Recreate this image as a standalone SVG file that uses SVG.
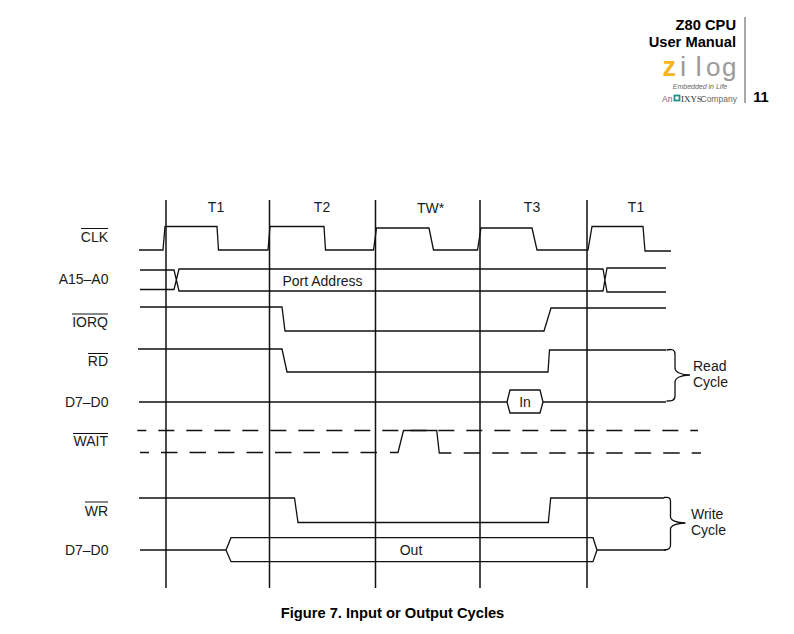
<svg xmlns="http://www.w3.org/2000/svg" width="794" height="634" viewBox="0 0 794 634">
<style>
text{font-family:"Liberation Sans",Arial,sans-serif;fill:#1a1a1a}
.l{font-size:14px;text-anchor:end}
.m{font-size:14px;text-anchor:middle}
.s{font-size:14px}
.b{font-weight:bold;font-size:14.700px;fill:#000}
.e{text-anchor:end}
.w,.o,.g{fill:none;stroke:#111;stroke-width:1.3;stroke-linejoin:miter}
.g{stroke-width:1.5}
.o{stroke-width:1}
.d1{stroke-dasharray:16 12;stroke-dashoffset:7}
.d2{stroke-dasharray:16.500 12;stroke-dashoffset:7.500}
</style>
<rect width="794" height="634" fill="#fff"/>
<g id="header">
<text class="b e" x="736" y="30">Z80 CPU</text>
<text class="b e" x="736" y="47">User Manual</text>
<line x1="745" y1="17" x2="745" y2="103" stroke="#555" stroke-width="1"/>
<text class="b" x="761" y="102" text-anchor="middle">11</text>
<g id="logo">
<text x="662.500" y="75.500" style="font-size:27px;font-weight:bold;fill:#f5b51e">z</text>
<text x="680" y="75.500" style="font-size:28px;fill:#9a9a9a">i</text>
<text x="695.500" y="75.500" style="font-size:28px;fill:#9a9a9a">l</text>
<text x="706" y="75.500" style="font-size:26px;fill:#9a9a9a">o</text>
<text x="722" y="75.500" style="font-size:26px;fill:#9a9a9a">g</text>
<text x="700" y="89" text-anchor="middle" style="font-size:7px;font-style:italic;fill:#666">Embedded in Life</text>
<text x="662" y="101.700" style="font-size:8.500px;fill:#666">An</text>
<rect x="674.500" y="95.500" width="5" height="5" fill="none" stroke="#1f8f8a" stroke-width="1.800"/>
<text x="681" y="101.700" style="font-size:9px;font-family:'Liberation Serif',serif;fill:#333">IXYS</text>
<text x="700.500" y="101.700" style="font-size:8.500px;fill:#666">Company</text>
</g>
</g>
<g id="grid">
<path class="g" d="M166 200V588M269.500 200V588M375.500 200V588M480 200V588M587 200V588"/>
</g>
<g id="phases">
<text class="m" x="216" y="212">T1</text>
<text class="m" x="322" y="212">T2</text>
<text class="m" x="430.500" y="213">TW*</text>
<text class="m" x="532" y="212">T3</text>
<text class="m" x="636" y="212">T1</text>
</g>
<g id="labels">
<text class="l" x="108" y="241.500">CLK</text><path class="o" d="M81 228.500H108"/>
<text class="l" x="108.500" y="284">A15–A0</text>
<text class="l" x="108" y="326.500">IORQ</text><path class="o" d="M72 314H108"/>
<text class="l" x="108" y="366">RD</text><path class="o" d="M88 353.500H108"/>
<text class="l" x="108.500" y="406.500">D7–D0</text>
<text class="l" x="108" y="446">WAIT</text><path class="o" d="M73 433.500H108"/>
<text class="l" x="108" y="515.500">WR</text><path class="o" d="M85 502H108"/>
<text class="l" x="108.500" y="555">D7–D0</text>
</g>
<g id="connectors">
<path id="clk" class="w" d="M139 250H163L165 226.500H217L218.500 250H268L270 226.500H324L325.500 250H373.500L376.500 228H429L433.500 250H477.500L481 228H532L537 250H588L592 226.500H643L645 251H671"/>
<path id="addr" class="w" d="M140 270H174L179 291H603L607 268H666M140 289.500H174L179 269H603L607 292H666"/>
<path id="iorq" class="w" d="M140 307H282L285 331H544L551 308H666"/>
<path id="rd" class="w" d="M138 349H282L287 372H548L549.500 350H666"/>
<path id="d1" class="w" d="M139 402H507L510 390H540L543 402H666M507 402L510 413H540L543 402"/>
<path id="wait-hi" class="w d1" d="M137.300 430.500H698"/>
<path id="wait-lo-a" class="w d2" d="M140 452.500H377.500"/>
<path id="wait-pulse" class="w" d="M390 452.500H398L403.500 430.500H436.700L439.300 453H451.300"/>
<path id="wait-lo-b" class="w" stroke-dasharray="16.500 12" d="M463.700 453H701"/>
<path id="wr" class="w" d="M139 498H294.500L298 522.500H548.300L550.700 498H664"/>
<path id="d2" class="w" d="M140 550H226L231 537.700H593L597 550H666M226 550L231 561.700H593L597 550"/>
<path id="read-brace" class="w" d="M666.500 350C671 349 675 349 675 354V368C675 372 681 375 690 375C681 375 675 378 675 382V396C675 401 671 401 666.500 401"/>
<path id="write-brace" class="w" d="M664 497.500C668 497 670.500 497 670.500 501V517C670.500 520 676 523 685.500 523C676 523 670.500 526 670.500 529V545C670.500 549 668 550 664 550"/>
</g>
<g id="values">
<text class="m" x="322.500" y="285.500">Port Address</text>
<text class="m" x="525" y="406.500">In</text>
<text class="m" x="411" y="554.500">Out</text>
</g>
<g id="read-label"><text class="s" x="693" y="370.500">Read</text><text class="s" x="693" y="387">Cycle</text></g>
<g id="write-label"><text class="s" x="691" y="519">Write</text><text class="s" x="691" y="535">Cycle</text></g>
<text class="b" x="392.500" y="618" text-anchor="middle">Figure 7. Input or Output Cycles</text>
</svg>
